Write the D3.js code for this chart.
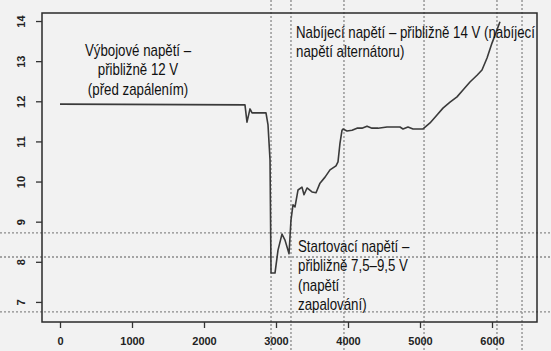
<!DOCTYPE html>
<html>
<head>
<meta charset="utf-8">
<script src="https://cdn.jsdelivr.net/npm/d3@7"></script>
<style>
  body { margin: 0; background: #f2f2f2; }
  .tick text { font-family: "Liberation Sans", Arial, sans-serif; font-weight: bold; font-size: 11px; fill: #222; }
  .note { font-family: "Liberation Sans", Arial, sans-serif; font-size: 16px; fill: #111; }
</style>
</head>
<body>
<svg id="chart" width="551" height="351"></svg>
<script>
// time (ms?) and battery voltage
var times = [0, 2569, 2597, 2639, 2667, 2861, 2889, 2917, 2931, 2986, 3028, 3083, 3125, 3181,
             3208, 3236, 3264, 3306, 3361, 3389, 3431, 3500, 3556, 3611, 3681, 3750, 3833, 3861,
             3889, 3917, 3931, 3986, 4056, 4125, 4194, 4264, 4333, 4417, 4542, 4625, 4722, 4764,
             4833, 4903, 5042, 5139, 5236, 5319, 5417, 5514, 5597, 5694, 5792, 5861, 5931, 6000,
             6069, 6111];
var volts = [11.93, 11.91, 11.48, 11.81, 11.71, 11.71, 11.41, 10.54, 7.72, 7.72, 8.29, 8.69, 8.54, 8.20,
             9.04, 9.42, 9.37, 9.79, 9.86, 9.67, 9.84, 9.74, 9.72, 9.96, 10.11, 10.29, 10.39, 10.49,
             10.96, 11.28, 11.31, 11.26, 11.28, 11.33, 11.33, 11.38, 11.33, 11.33, 11.36, 11.36, 11.36, 11.31,
             11.36, 11.31, 11.31, 11.46, 11.66, 11.83, 11.98, 12.11, 12.28, 12.48, 12.65, 12.78, 13.08, 13.45,
             13.78, 13.98];

var xTicks = [0, 1000, 2000, 3000, 4000, 5000, 6000];
var yTicks = [7, 8, 9, 10, 11, 12, 13, 14];

// dotted guide lines
var vGuides = [2931, 3208, 3944, 5056, 6069, 6417];
var hGuides = [8.72, 8.12, 6.75];

var notes1 = ["Výbojové napětí –", "přibližně 12 V", "(před zapálením)"];
var notes2 = ["Nabíjecí napětí – přibližně 14 V (nabíjecí", "napětí alternátoru)"];
var notes3 = ["Startovací napětí –", "přibližně 7,5–9,5 V", "(napětí", "zapalování)"];

var svg = d3.select("#chart");
var W = +svg.attr("width"), H = +svg.attr("height");

var x = d3.scaleLinear().domain([-250, 6625]).range([42, 537]);
var y = d3.scaleLinear().domain([6.5, 14.2]).range([322, 13]);

svg.append("rect").attr("width", W).attr("height", H).attr("fill", "#f2f2f2");

// guides go right across the picture
svg.selectAll("line.hg").data(hGuides).enter().append("line")
    .attr("class", "hg")
    .attr("x1", 0).attr("x2", W)
    .attr("y1", function(d) { return y(d); }).attr("y2", function(d) { return y(d); })
    .attr("stroke", "#8a8a8a").attr("stroke-width", 1.3).attr("stroke-dasharray", "2,2");

svg.selectAll("line.vg").data(vGuides).enter().append("line")
    .attr("class", "vg")
    .attr("y1", 0).attr("y2", H)
    .attr("x1", function(d) { return x(d); }).attr("x2", function(d) { return x(d); })
    .attr("stroke", "#8a8a8a").attr("stroke-width", 1.3).attr("stroke-dasharray", "2,2");

// plot frame
svg.append("rect")
    .attr("x", x.range()[0]).attr("y", y.range()[1])
    .attr("width", x.range()[1] - x.range()[0])
    .attr("height", y.range()[0] - y.range()[1])
    .attr("fill", "none").attr("stroke", "#2a2a2a").attr("stroke-width", 1.5);

var pts = times.map(function(t, i) { return [t, volts[i]]; });
var lineFunction = d3.line()
    .x(function(d) { return x(d[0]); })
    .y(function(d) { return y(d[1]); });

svg.append("path")
    .attr("d", lineFunction(pts))
    .attr("fill", "none")
    .attr("stroke", "#3a3a3a")
    .attr("stroke-width", 1.6)
    .attr("stroke-linejoin", "round");

//x axis
var gx = svg.append("g")
    .attr("transform", "translate(0," + y.range()[0] + ")")
    .call(d3.axisBottom(x).tickValues(xTicks).tickSize(6).tickPadding(9).tickFormat(d3.format("d")));
gx.select(".domain").remove();
gx.selectAll(".tick line").attr("stroke", "#333").attr("stroke-width", 1.3);

//y axis
var gy = svg.append("g")
    .attr("transform", "translate(" + x.range()[0] + ",0)")
    .call(d3.axisLeft(y).tickValues(yTicks).tickSize(6).tickFormat(d3.format("d")));
gy.select(".domain").remove();
gy.selectAll(".tick line").attr("stroke", "#333").attr("stroke-width", 1.3);
gy.selectAll(".tick text")
    .attr("x", 0).attr("dy", 0)
    .attr("transform", "translate(-21,0) rotate(-90)")
    .attr("text-anchor", "middle")
    .attr("dominant-baseline", "central");

// narrow font is not installed, so squeeze the regular one
function addNote(lines, px, py, anchor) {
  var g = svg.append("g").attr("transform", "translate(" + px + "," + py + ") scale(0.83,1)");
  var t = g.append("text").attr("class", "note").attr("text-anchor", anchor);
  t.selectAll("tspan").data(lines).enter().append("tspan")
      .attr("x", 0)
      .attr("y", function(d, i) { return i * 19.5; })
      .text(function(d) { return d; });
}

addNote(notes1, 138, 56, "middle");
addNote(notes2, 296, 38, "start");
addNote(notes3, 298, 252, "start");
</script>
</body>
</html>
